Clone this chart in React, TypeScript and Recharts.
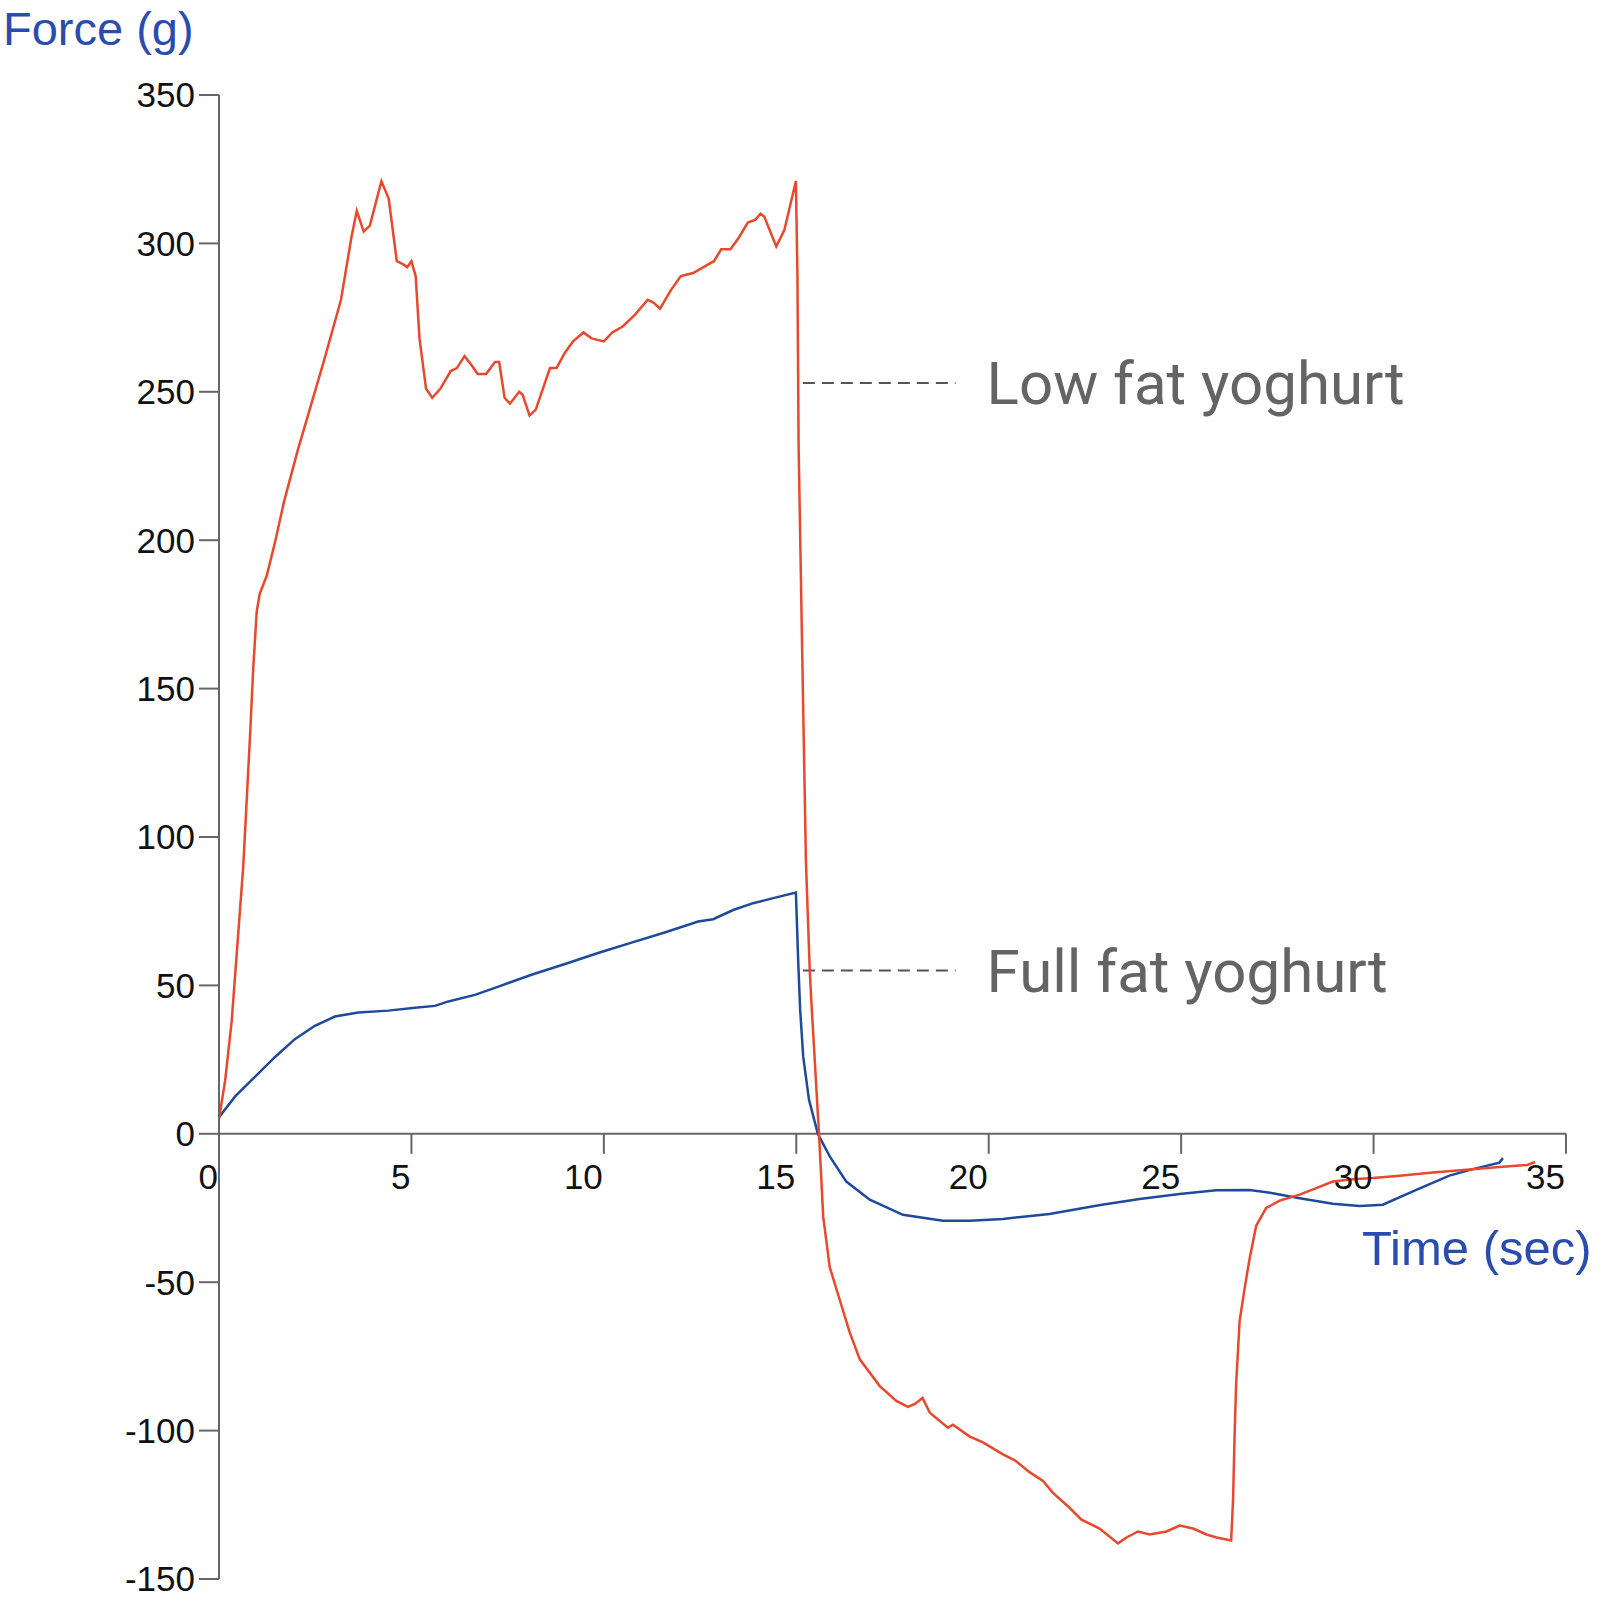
import React from 'react';
import {
  LineChart,
  Line,
  XAxis,
  YAxis,
  ReferenceLine,
  ReferenceDot,
} from 'recharts';

// Low fat yoghurt trace (time in s, force in g)
const lowFatTime = [
  0, 0.16, 0.33, 0.63, 0.81, 0.89, 0.98, 1.06, 1.24, 1.45, 1.69, 2.04, 2.31, 2.74, 3.17, 3.44,
  3.58, 3.76, 3.92, 4.22, 4.41, 4.62, 4.78, 4.89, 5.0, 5.11, 5.21, 5.38, 5.54, 5.75, 6.02, 6.18,
  6.38, 6.56, 6.72, 6.94, 7.17, 7.28, 7.42, 7.56, 7.8, 7.89, 8.07, 8.23, 8.6, 8.77, 8.98, 9.2,
  9.47, 9.68, 10.0, 10.22, 10.49, 10.81, 11.14, 11.3, 11.46, 11.73, 12.0, 12.32, 12.59, 12.86,
  13.05, 13.29, 13.51, 13.74, 13.94, 14.07, 14.17, 14.48, 14.69, 14.99, 15.03, 15.06, 15.15,
  15.25, 15.35, 15.39, 15.59, 15.7, 15.87, 16.13, 16.39, 16.65, 17.17, 17.6, 17.9, 18.08, 18.28,
  18.47, 18.94, 19.07, 19.51, 19.85, 20.37, 20.68, 21.06, 21.41, 21.67, 22.1, 22.41, 22.88,
  23.36, 23.58, 23.88, 24.18, 24.62, 24.96, 25.31, 25.66, 25.92, 26.3, 26.35, 26.39, 26.43,
  26.52, 26.65, 26.78, 26.95, 27.21, 27.56, 28.08, 28.51, 28.94, 29.46, 29.98, 30.68, 31.54,
  32.41, 33.27, 34.0, 34.2,
];
const lowFatForce = [
  5, 18, 38, 90, 135, 157, 176, 182, 188, 199, 213, 230, 242, 261, 281, 302,
  311, 304, 306, 321, 315, 294, 293, 292, 294, 289, 268, 251, 248, 251, 257, 258,
  262, 259, 256, 256, 260, 260, 248, 246, 250, 249, 242, 244, 258, 258, 263, 267,
  270, 268, 267, 270, 272, 276, 281, 280, 278, 284, 289, 290, 292, 294,
  298, 298, 302, 307, 308, 310, 309, 299, 304.5, 321, 289, 232, 165,
  92, 55, 45, 0, -28, -45, -56, -67, -76, -85, -90, -92, -91, -89,
  -94, -99, -98, -102, -104, -108, -110, -114, -117, -121, -126, -130, -133,
  -138, -136, -134, -135, -134, -132, -133, -135, -136, -137, -123, -101, -84,
  -63, -52, -42, -31, -25, -22.5, -20.5, -18.3, -16.1, -15.3, -14.9, -14.1, -13,
  -12.1, -11.2, -10.5, -9.5,
];

// Full fat yoghurt trace
const fullFatTime = [
  0, 0.42, 0.94, 1.45, 1.97, 2.49, 3.01, 3.62, 4.4, 5.09, 5.61, 5.96, 6.65, 7.26, 8.12, 8.99,
  9.85, 10.72, 11.58, 12.45, 12.84, 13.36, 13.88, 14.4, 14.99, 15.05, 15.1, 15.18, 15.33,
  15.56, 15.87, 16.3, 16.91, 17.77, 18.81, 19.51, 20.37, 21.58, 22.9, 23.92, 24.96, 25.91,
  26.78, 27.38, 28.08, 28.94, 29.64, 30.24, 31.11, 31.97, 32.58, 33.27, 33.36,
];
const fullFatForce = [
  5.6, 12.6, 19.3, 25.8, 31.9, 36.4, 39.5, 40.9, 41.5, 42.5, 43.1, 44.6, 46.8, 49.6, 53.6, 57.2,
  60.9, 64.4, 67.8, 71.5, 72.3, 75.4, 77.7, 79.4, 81.3, 58, 42, 26, 11.5,
  0, -7.6, -16.1, -22.2, -27.3, -29.3, -29.3, -28.7, -27, -24, -22, -20.3, -19,
  -18.9, -20, -21.7, -23.6, -24.3, -23.9, -18.9, -14.1, -11.9, -9.7, -8.2,
];

const xTicks = [0, 5, 10, 15, 20, 25, 30, 35];
const yTicks = [-150, -100, -50, 0, 50, 100, 150, 200, 250, 300, 350];

// annotations: leader start/end time, force level, text
const annotations = [
  { from: 15.17, to: 19.14, force: 253, text: 'Low fat yoghurt' },
  { from: 15.17, to: 19.14, force: 55, text: 'Full fat yoghurt' },
];

const lowFatData = lowFatTime.map((t, i) => ({ t, v: lowFatForce[i] }));
const fullFatData = fullFatTime.map((t, i) => ({ t, v: fullFatForce[i] }));

const AXIS = '#666666';
const RED = '#e6492e';
const BLUE = '#1f4a9c';
const TITLE_BLUE = '#2a4cae';
const SANS = '"Liberation Sans", Arial, sans-serif';

function XTick({ cx, cy, label }: { cx: number; cy: number; label: number }) {
  return (
    <g>
      <line x1={cx} y1={cy} x2={cx} y2={cy + 20} stroke={AXIS} strokeWidth={2} />
      <text x={cx - 1} y={cy + 55} textAnchor="end" fontSize={35} fill="#111" fontFamily={SANS}>
        {label}
      </text>
    </g>
  );
}

function NoteText({ cx, cy, text }: { cx: number; cy: number; text: string }) {
  return (
    <text x={cx + 31} y={cy + 21} fontSize={60} fill="#646464" fontFamily="Roboto, sans-serif">
      {text}
    </text>
  );
}

export default function App() {
  return (
    <div style={{ position: 'absolute', left: 0, top: 0, width: 1600, height: 1600, background: '#fff' }}>
      <LineChart width={1600} height={1600} margin={{ top: 95, right: 34, bottom: 21, left: 0 }}>
        <XAxis type="number" dataKey="t" domain={[0, 35]} ticks={xTicks} hide allowDataOverflow />
        <YAxis
          type="number"
          domain={[-150, 350]}
          ticks={yTicks}
          interval={0}
          width={219}
          tickSize={20}
          tickMargin={4}
          allowDataOverflow
          axisLine={{ stroke: AXIS, strokeWidth: 2 }}
          tickLine={{ stroke: AXIS, strokeWidth: 2 }}
          tick={{ fontSize: 35, fill: '#111', fontFamily: SANS }}
        />
        <ReferenceLine y={0} stroke={AXIS} strokeWidth={2} />
        {xTicks.map((t) => (
          <ReferenceDot
            key={`xt-${t}`}
            x={t}
            y={0}
            r={0}
            shape={(p: any) => <XTick cx={p.cx} cy={p.cy} label={t} />}
          />
        ))}
        {annotations.map((a) => (
          <ReferenceLine
            key={`lead-${a.text}`}
            segment={[
              { x: a.from, y: a.force },
              { x: a.to, y: a.force },
            ]}
            stroke="#555"
            strokeWidth={2}
            strokeDasharray="12 7"
          />
        ))}
        {annotations.map((a) => (
          <ReferenceDot
            key={`note-${a.text}`}
            x={a.to}
            y={a.force}
            r={0}
            shape={(p: any) => <NoteText cx={p.cx} cy={p.cy} text={a.text} />}
          />
        ))}
        <Line
          data={fullFatData}
          dataKey="v"
          type="linear"
          stroke={BLUE}
          strokeWidth={2.5}
          dot={false}
          isAnimationActive={false}
        />
        <Line
          data={lowFatData}
          dataKey="v"
          type="linear"
          stroke={RED}
          strokeWidth={2.5}
          dot={false}
          isAnimationActive={false}
        />
      </LineChart>
      <svg
        width={1600}
        height={1600}
        style={{ position: 'absolute', left: 0, top: 0, pointerEvents: 'none' }}
      >
        <text x={3} y={45} fontSize={47} fill={TITLE_BLUE} fontFamily={SANS}>
          Force (g)
        </text>
        <text x={1362} y={1265} fontSize={49} fill={TITLE_BLUE} fontFamily={SANS}>
          Time (sec)
        </text>
      </svg>
    </div>
  );
}
